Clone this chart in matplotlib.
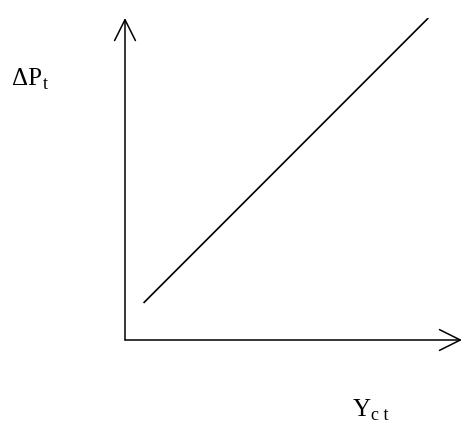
import matplotlib as mpl
mpl.use("Agg")
import matplotlib.pyplot as plt
from matplotlib.patches import FancyArrowPatch

# schematic: price change vs. output, one rising straight line
line_x = [0.55, 9.0]
line_y = [1.15, 10.0]
x_label, x_sub = "Y", "c t"
y_label, y_sub = "ΔP", "t"

plt.rcParams["font.family"] = ["Liberation Serif", "DejaVu Serif"]

W, H = 463, 424
fig = plt.figure(figsize=(W / 100, H / 100), dpi=100)

# axes box: origin at (125, 340) px, arrow tips at x=462 and y=18
ox, oy = 125, 340
ax = fig.add_axes([ox / W, (H - oy) / H, (462 - ox) / W, (oy - 18) / H])
ax.set_xlim(0, 10)
ax.set_ylim(0, 10)
ax.axis("off")

ax.plot(line_x, line_y, color="black", lw=1.2, solid_capstyle="butt")

arrow_kw = dict(
    arrowstyle="->,head_length=15,head_width=7.5",
    mutation_scale=1,
    color="black",
    lw=1.1,
    transform=ax.transAxes,
    clip_on=False,
    shrinkA=0,
    shrinkB=0,
)
ax.add_patch(FancyArrowPatch((0, 0), (0, 1), **arrow_kw))
ax.add_patch(FancyArrowPatch((0, 0), (1, 0), **arrow_kw))


def px(x, y):
    return x / W, 1 - y / H


fig.text(*px(12, 85), y_label, fontsize=18, va="baseline", ha="left")
fig.text(*px(43, 89), y_sub, fontsize=13, va="baseline", ha="left")
fig.text(*px(353, 416), x_label, fontsize=18, va="baseline", ha="left")
fig.text(*px(371, 420), x_sub, fontsize=13, va="baseline", ha="left")

fig.savefig("out.png", dpi=100)
